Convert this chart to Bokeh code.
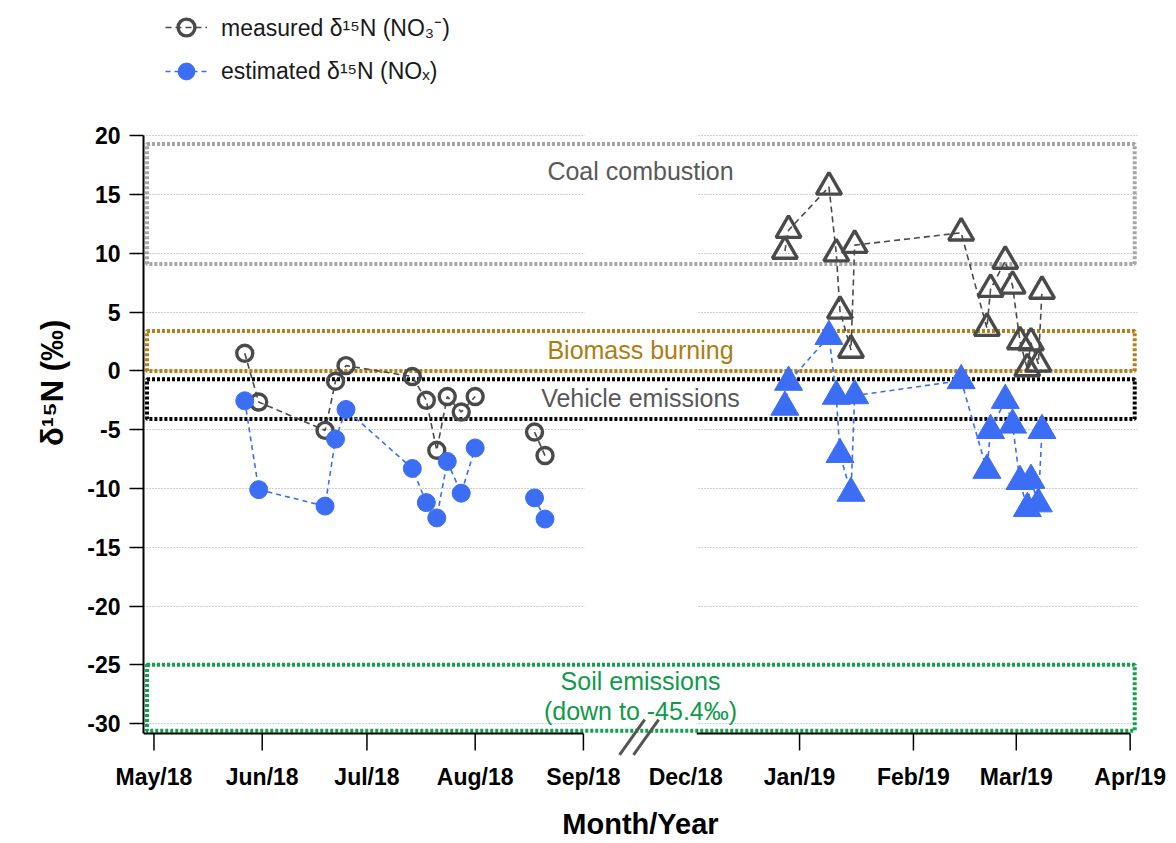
import datetime as dt
import numpy as np
from bokeh.plotting import figure
from bokeh.models import (Range1d, FixedTicker, Legend, LegendItem, Label, BoxAnnotation)
from bokeh.embed import file_html
from bokeh.resources import INLINE

# ---------------- data ----------------
dates_2018 = ["2018-05-27", "2018-05-31", "2018-06-19", "2018-06-22", "2018-06-25",
              "2018-07-14", "2018-07-18", "2018-07-21", "2018-07-24", "2018-07-28",
              "2018-08-01", "2018-08-18", "2018-08-21"]
measured_2018 = [1.5, -2.65, -5.06, -0.88, 0.45, -0.48, -2.5, -6.75, -2.18, -3.5,
                 -2.18, -5.2, -7.2]
estimated_2018 = [-2.54, -10.1, -11.5, -5.8, -3.28, -8.3, -11.2, -12.5, -7.7, -10.4,
                  -6.55, -10.8, -12.6]
group_2018 = [1, 1, 1, 1, 1, 1, 1, 1, 1, 1, 1, 2, 2]

dates_2019 = ["2018-12-28", "2018-12-29", "2019-01-09", "2019-01-11", "2019-01-12",
              "2019-01-15", "2019-01-16", "2019-02-14", "2019-02-21", "2019-02-22",
              "2019-02-26", "2019-02-28", "2019-03-02", "2019-03-04", "2019-03-05",
              "2019-03-07", "2019-03-08"]
measured_2019 = [10.2, 11.97, 15.65, 9.97, 5.1, 1.78, 10.7, 11.75, 3.64, 6.95,
                 9.35, 7.23, 2.5, 0.2, 2.4, 0.6, 6.8]
estimated_2019 = [-3.08, -0.96, 2.94, -2.15, -7.1, -10.4, -2.1, -0.82, -8.45, -5.06,
                  -2.5, -4.6, -9.4, -11.7, -9.3, -11.3, -5.06]
group_2019 = [3] * 17

tick_dates = ["2018-05-01", "2018-06-01", "2018-07-01", "2018-08-01", "2018-09-01",
              "2018-12-01", "2019-01-01", "2019-02-01", "2019-03-01", "2019-04-01"]
tick_labels = ["May/18", "Jun/18", "Jul/18", "Aug/18", "Sep/18",
               "Dec/18", "Jan/19", "Feb/19", "Mar/19", "Apr/19"]
y_ticks = [-30, -25, -20, -15, -10, -5, 0, 5, 10, 15, 20]
y_tick_labels = ["-30", "-25", "-20", "-15", "-10", "-5", "0", "5", "10", "15", "20"]

source_names = ["Coal combustion", "Biomass burning", "Vehicle emissions", "Soil emissions"]
source_low = [9.1, 0.0, -4.1, -30.6]
source_high = [19.3, 3.4, -0.7, -25.0]

# ---------------- broken time axis ----------------
SEG1_START = dt.date(2018, 5, 1)
SEG2_START = dt.date(2018, 12, 1)
SEG2_OFFSET = 152.3
SEG2_SCALE = 1.052


def to_x(s):
    d = dt.date.fromisoformat(s)
    if d < SEG2_START:
        return float((d - SEG1_START).days)
    return round(SEG2_OFFSET + (d - SEG2_START).days * SEG2_SCALE, 4)


def path(xs, ys, groups):
    px, py, prev = [], [], None
    for x, y, g in zip(xs, ys, groups):
        if prev is not None and g != prev:
            px.append(np.nan)
            py.append(np.nan)
        px.append(x)
        py.append(y)
        prev = g
    return np.array(px, dtype=float), np.array(py, dtype=float)


x18 = [to_x(d) for d in dates_2018]
x19 = [to_x(d) for d in dates_2019]
groups = group_2018 + group_2019
gx, gy = path(x18 + x19, measured_2018 + measured_2019, groups)
bx, by = path(x18 + x19, estimated_2018 + estimated_2019, groups)

# ---------------- figure ----------------
PX_PER_Y = 11.82
X_START, X_END = -3.0, 281.7
Y_TOP = 20.0                        # top of the y axis line
Y_AX = -30.85                       # where the x axis line is drawn
Y_END = Y_TOP + 136 / PX_PER_Y      # frame extends up to hold the legend
Y_START = Y_AX - 23 / PX_PER_Y      # frame extends below the axis line
TICK_LEN = 17 / PX_PER_Y
FONT = "Liberation Sans"
GRAY = "#4a4a4a"
BLUE = "#3c6ef5"

p = figure(width=1172, height=842, x_range=Range1d(X_START, X_END),
           y_range=Range1d(Y_START, Y_END), output_backend="svg",
           toolbar_location=None, min_border_left=143, min_border_right=35,
           min_border_top=0, min_border_bottom=82)
p.title.visible = False
p.outline_line_color = None
p.xgrid.visible = False
p.ygrid.ticker = FixedTicker(ticks=y_ticks)
p.ygrid.grid_line_color = "#a0a0a0"
p.ygrid.grid_line_dash = "1 2"
p.ygrid.grid_line_width = 1

# white out grid in the axis break
p.add_layout(BoxAnnotation(left=to_x("2018-09-01") + 0.3, right=to_x("2018-12-04"),
                           fill_color="white", fill_alpha=1.0, line_alpha=0,
                           level="underlay"))

# source boxes
box_colors = ["#a6a6a6", "#b5801a", "#000000", "#12a150"]
BOX_LEFT, BOX_RIGHT = X_START + 1.0, X_END - 0.8
p.quad(left=BOX_LEFT, right=BOX_RIGHT, bottom=source_low, top=source_high,
       fill_color=None, line_color=box_colors, line_width=4, line_dash="3 2")

XMID = (X_START + X_END) / 2
label_y = [17.0, 1.8, -2.3, -26.4]
label_colors = ["#595959", "#b07c12", "#595959", "#109a4c"]
for name, yy, col in zip(source_names, label_y, label_colors):
    p.add_layout(Label(x=XMID, y=yy, text=name, text_align="center",
                       text_baseline="middle", text_font=FONT,
                       text_font_size="25px", text_color=col))
p.add_layout(Label(x=XMID, y=-28.9, text="(down to -45.4‰)", text_align="center",
                   text_baseline="middle", text_font=FONT, text_font_size="25px",
                   text_color="#109a4c"))

# x axis line (with gap), tick marks and break marks
xt = [to_x(d) for d in tick_dates]
xt_marked = [v for v, d in zip(xt, tick_dates) if d != "2018-12-01"]
p.segment(x0=[X_START, to_x("2018-12-04")], y0=[Y_AX, Y_AX],
          x1=[to_x("2018-09-01"), to_x("2019-04-01")], y1=[Y_AX, Y_AX],
          line_color="#000000", line_width=2)
p.segment(x0=xt_marked, y0=[Y_AX] * len(xt_marked), x1=xt_marked,
          y1=[Y_AX - TICK_LEN] * len(xt_marked), line_color="#000000", line_width=1.5)
BREAK_X = (to_x("2018-09-01") + to_x("2018-12-01")) / 2
p.segment(x0=[BREAK_X - 4.3, BREAK_X - 0.3], y0=[Y_AX - 1.8, Y_AX - 1.8],
          x1=[BREAK_X + 2.9, BREAK_X + 6.9], y1=[Y_AX + 1.2, Y_AX + 1.2],
          line_color="#555555", line_width=3)

# data
g_line = p.line(gx, gy, line_color=GRAY, line_width=1.6, line_dash="6 4")
b_line = p.line(bx, by, line_color=BLUE, line_width=1.6, line_dash="5 4")
g_circ = p.scatter(x18, measured_2018, marker="circle", size=16, fill_color=None,
                   line_color=GRAY, line_width=3.4)
g_tri = p.scatter(x19, measured_2019, marker="triangle", size=25, fill_color=None,
                  line_color=GRAY, line_width=3.4)
b_circ = p.scatter(x18, estimated_2018, marker="circle", size=18, fill_color=BLUE,
                   line_color=BLUE, line_width=1)
b_tri = p.scatter(x19, estimated_2019, marker="triangle", size=28, fill_color=BLUE,
                  line_color=BLUE, line_width=1)

# axes
p.xaxis.ticker = FixedTicker(ticks=xt)
p.xaxis.major_label_overrides = {v: lab for v, lab in zip(xt, tick_labels)}
p.yaxis.ticker = FixedTicker(ticks=y_ticks)
p.yaxis.major_label_overrides = {v: lab for v, lab in zip(y_ticks, y_tick_labels)}
for ax in (p.xaxis[0], p.yaxis[0]):
    ax.major_label_text_font = FONT
    ax.major_label_text_font_style = "bold"
    ax.major_label_text_font_size = "23px"
    ax.major_label_text_color = "#000000"
    ax.major_tick_in = 0
    ax.major_tick_line_width = 1.5
    ax.major_tick_line_color = "#000000"
    ax.minor_tick_line_color = None
    ax.axis_label_text_font = FONT
    ax.axis_label_text_font_style = "bold"
    ax.axis_label_text_color = "#000000"
p.xaxis.major_tick_out = 0
p.xaxis.major_tick_line_color = None
p.xaxis.major_label_standoff = 7
p.xaxis.axis_line_color = None
p.xaxis.axis_label = "Month/Year"
p.xaxis.axis_label_text_font_size = "29px"
p.xaxis.axis_label_standoff = 15
p.yaxis.major_tick_out = 14
p.yaxis.major_label_standoff = 9
p.yaxis.bounds = (Y_AX, Y_TOP)
p.yaxis.axis_line_width = 2
p.yaxis.axis_line_color = "#000000"
p.yaxis.axis_label = "δ¹⁵N  (‰)"
p.yaxis.axis_label_text_font_size = "31px"
p.yaxis.axis_label_standoff = 14

# legend in the top strip of the frame, above the y axis
FRAME_BOTTOM_TO_LEGEND = round((Y_END - Y_START) * PX_PER_Y) - 97
legend = Legend(items=[
    LegendItem(label="measured δ¹⁵N (NO₃⁻)", renderers=[g_line, g_circ]),
    LegendItem(label="estimated δ¹⁵N (NOₓ)", renderers=[b_line, b_circ]),
], location=(22, FRAME_BOTTOM_TO_LEGEND), orientation="vertical", glyph_width=42,
    glyph_height=44, label_standoff=14, padding=0, margin=0, spacing=0,
    border_line_color=None, background_fill_alpha=0, label_text_font=FONT,
    label_text_font_size="23px", label_text_color="#1a1a1a")
p.add_layout(legend)

open("out.html", "w").write(file_html(p, INLINE))
